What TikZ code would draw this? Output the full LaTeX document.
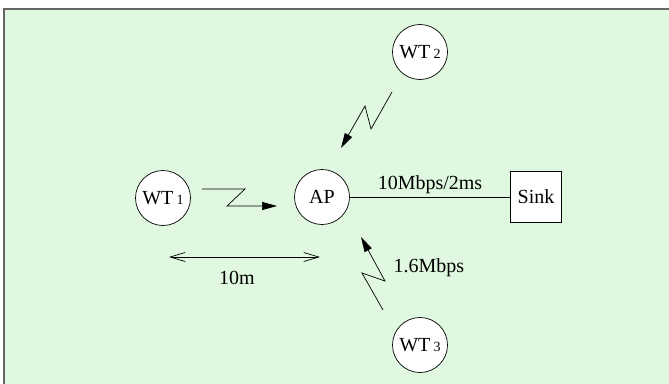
\documentclass[tikz,border=0pt]{standalone}
\usepackage{fontspec}
\setmainfont{Liberation Serif}
\usetikzlibrary{arrows.meta}

\definecolor{paleground}{RGB}{224,248,224}
\newcommand{\wtlabel}[1]{WT\,{\fontsize{14}{14}\selectfont #1}}

\tikzset{
  station/.style={draw, circle, fill=white, minimum size=55pt, inner sep=0pt, line width=0.7pt},
  sinkbox/.style={draw, rectangle, fill=white, minimum size=51pt, inner sep=0pt, line width=0.7pt},
  bolt/.style={-{Triangle[length=15pt,width=8pt]}, line width=0.7pt},
}

\begin{document}
\begin{tikzpicture}[x=1pt, y=-1pt, font=\fontsize{20}{24}\selectfont]
            \useasboundingbox (0,0) rectangle (669,383);
            \draw[fill=paleground, draw=black!60, line width=1.5pt] (4,9) rectangle (700,420);

            \node[station] (wt1) at (163,198) {\wtlabel{1}};
            \node[station] (ap) at (322,197) {AP};
            \node[station] (wt2) at (420,52) {\wtlabel{2}};
            \node[station] (wt3) at (420,345) {\wtlabel{3}};
            \node[sinkbox] (sink) at (536,197) {Sink};

            \draw[line width=0.7pt] (ap) -- (sink) node[midway, above] {10Mbps/2ms};

            % wireless links
            \coordinate (b1s) at (202,189);
            \coordinate (b1e) at (277,206);
            \draw[bolt] (b1s) -- (245,189) -- (227,206) -- (b1e);

            \coordinate (b2s) at (392,92);
            \coordinate (b2e) at (341,148);
            \draw[bolt] (b2s) -- (371,129) -- (365,106) -- (b2e);

            \coordinate (b3s) at (383,310);
            \coordinate (b3e) at (361,237);
            \draw[bolt] (b3s) -- (362,273) -- (385,281) -- (b3e);
            \node[anchor=west] (rate) at (390,268) {1.6Mbps};

            % distance
            \coordinate (dl) at (169,257);
            \coordinate (dr) at (320,257);
            \draw[{Straight Barb[length=15pt,width=9pt]}-{Straight Barb[length=15pt,width=9pt]}, line width=0.7pt] (dl) -- (dr);
            \node (dist) at (237,278) {10m};
        \end{tikzpicture}
\end{document}
